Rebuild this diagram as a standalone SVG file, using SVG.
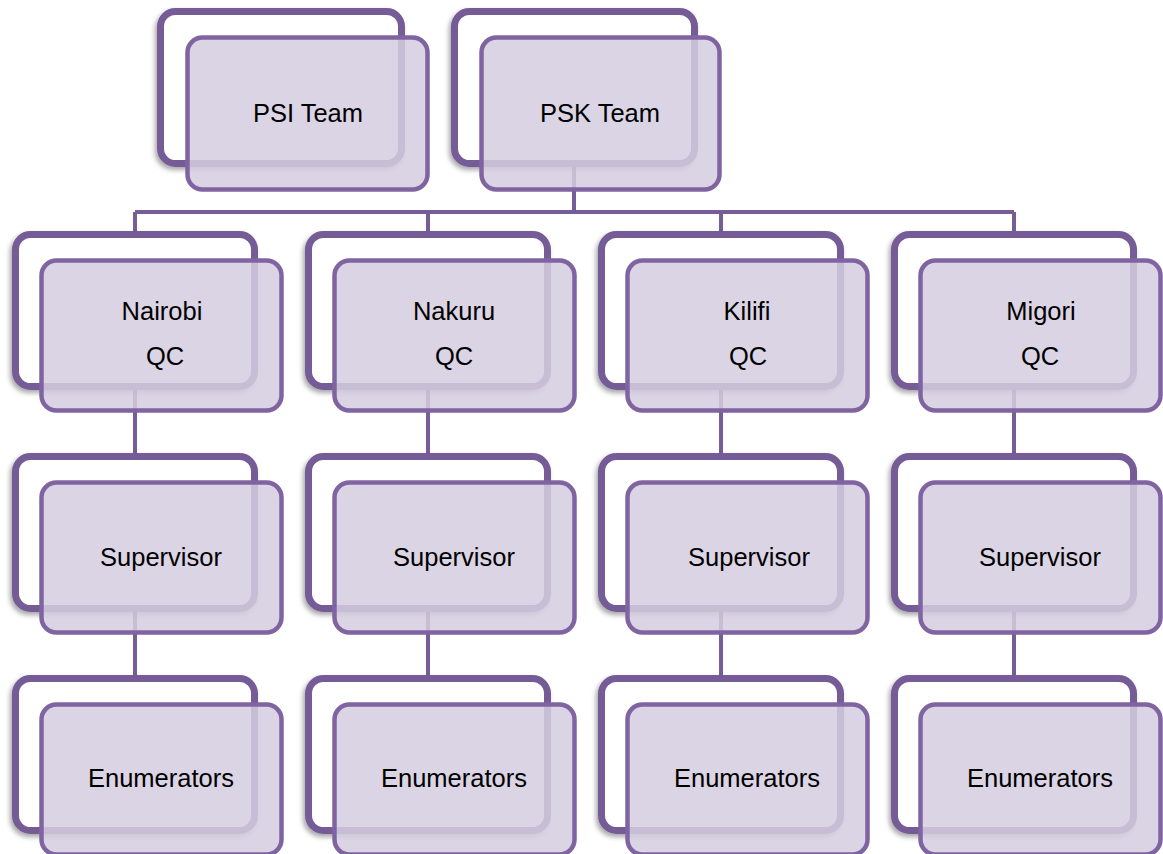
<svg xmlns="http://www.w3.org/2000/svg" width="1163" height="854" viewBox="0 0 1163 854">
<defs>
<filter id="sh" x="-10%" y="-10%" width="120%" height="125%">
<feDropShadow dx="-2" dy="3" stdDeviation="2.5" flood-color="#000" flood-opacity="0.35"/>
</filter>
</defs>
<style>
.back{fill:#fff;stroke:#755b97;stroke-width:7;filter:url(#sh)}
.front{fill:rgb(213,205,224);fill-opacity:0.86;stroke:#8064a2;stroke-width:4.5}
.conn{stroke:#765d98;stroke-width:4;fill:none}
text{font-family:"Liberation Sans",Arial,sans-serif;font-size:25.5px;fill:#000;text-anchor:middle}
</style>
<rect width="1163" height="854" fill="#fff"/>
<g id="connectors">
<path class="conn" d="M574 167V212M135 212H1014M135 212V231M428 212V231M721 212V231M1014 212V231"/>
<path class="conn" d="M135 390V455M428 390V455M721 390V455M1014 390V455"/>
<path class="conn" d="M135 612V675M428 612V675M721 612V675M1014 612V675"/>
</g>
<g id="psi">
<rect class="back" x="160.5" y="11.5" width="241" height="152" rx="15"/>
<rect class="front" x="187.5" y="37.5" width="240" height="152" rx="15"/>
<text x="308" y="122">PSI Team</text>
</g>
<g id="psk">
<rect class="back" x="454.5" y="11.5" width="240" height="152" rx="15"/>
<rect class="front" x="481.5" y="37.5" width="238" height="152" rx="15"/>
<text x="600" y="122">PSK Team</text>
</g>
<g id="nairobi">
<rect class="back" x="15.5" y="234.5" width="239" height="152" rx="15"/>
<rect class="front" x="41.5" y="260.5" width="240" height="150" rx="15"/>
<text x="162" y="320">Nairobi</text>
<text x="165" y="365">QC</text>
</g>
<g id="nakuru">
<rect class="back" x="308.5" y="234.5" width="239" height="152" rx="15"/>
<rect class="front" x="334.5" y="260.5" width="240" height="150" rx="15"/>
<text x="454" y="320">Nakuru</text>
<text x="454" y="365">QC</text>
</g>
<g id="kilifi">
<rect class="back" x="601.5" y="234.5" width="239" height="152" rx="15"/>
<rect class="front" x="627.5" y="260.5" width="240" height="150" rx="15"/>
<text x="747" y="320">Kilifi</text>
<text x="748" y="365">QC</text>
</g>
<g id="migori">
<rect class="back" x="894.5" y="234.5" width="239" height="152" rx="15"/>
<rect class="front" x="920.5" y="260.5" width="240" height="150" rx="15"/>
<text x="1041" y="320">Migori</text>
<text x="1040" y="365">QC</text>
</g>
<g id="sup-nairobi">
<rect class="back" x="15.5" y="456.5" width="239" height="152" rx="15"/>
<rect class="front" x="41.5" y="482.5" width="240" height="150" rx="15"/>
<text x="161" y="566">Supervisor</text>
</g>
<g id="sup-nakuru">
<rect class="back" x="308.5" y="456.5" width="239" height="152" rx="15"/>
<rect class="front" x="334.5" y="482.5" width="240" height="150" rx="15"/>
<text x="454" y="566">Supervisor</text>
</g>
<g id="sup-kilifi">
<rect class="back" x="601.5" y="456.5" width="239" height="152" rx="15"/>
<rect class="front" x="627.5" y="482.5" width="240" height="150" rx="15"/>
<text x="749" y="566">Supervisor</text>
</g>
<g id="sup-migori">
<rect class="back" x="894.5" y="456.5" width="239" height="152" rx="15"/>
<rect class="front" x="920.5" y="482.5" width="240" height="150" rx="15"/>
<text x="1040" y="566">Supervisor</text>
</g>
<g id="enum-nairobi">
<rect class="back" x="15.5" y="678.5" width="239" height="152" rx="15"/>
<rect class="front" x="41.5" y="704.5" width="240" height="150" rx="15"/>
<text x="161" y="787">Enumerators</text>
</g>
<g id="enum-nakuru">
<rect class="back" x="308.5" y="678.5" width="239" height="152" rx="15"/>
<rect class="front" x="334.5" y="704.5" width="240" height="150" rx="15"/>
<text x="454" y="787">Enumerators</text>
</g>
<g id="enum-kilifi">
<rect class="back" x="601.5" y="678.5" width="239" height="152" rx="15"/>
<rect class="front" x="627.5" y="704.5" width="240" height="150" rx="15"/>
<text x="747" y="787">Enumerators</text>
</g>
<g id="enum-migori">
<rect class="back" x="894.5" y="678.5" width="239" height="152" rx="15"/>
<rect class="front" x="920.5" y="704.5" width="240" height="150" rx="15"/>
<text x="1040" y="787">Enumerators</text>
</g>
</svg>
